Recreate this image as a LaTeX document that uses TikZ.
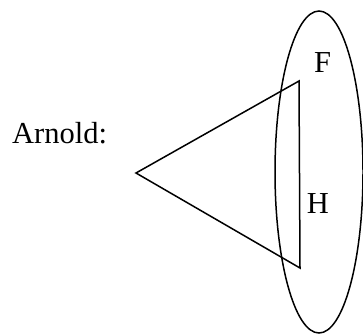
\documentclass[tikz,border=0pt]{standalone}
\usepackage{fontspec}
\setmainfont{Liberation Serif}
\usetikzlibrary{positioning}

\begin{document}
\begin{tikzpicture}[x=1pt, y=-1pt,
  edge/.style={draw=black, line width=1.5pt, line join=miter},
  lab/.style={font=\fontsize{30.5}{36}\selectfont, inner sep=0pt, anchor=base},
]
\useasboundingbox (0,0) rectangle (363,333);

\def\EX{319}   % ellipse centre
\def\EY{172}

% the set
\draw[edge] (\EX,\EY) ellipse [x radius=44, y radius=161];

% the triangle
\coordinate (apex) at (136,173);
\coordinate (top) at (299,81);
\coordinate (bot) at (300,268);
\draw[edge] (apex) -- (top) -- (bot) -- cycle;

% labels
\node[lab, anchor=base west] (arnold) at (12,143) {Arnold:};
\node[lab] (f) at (322.5,72) {F};
\node[lab] (h) at (318,213) {H};

\end{tikzpicture}
\end{document}
